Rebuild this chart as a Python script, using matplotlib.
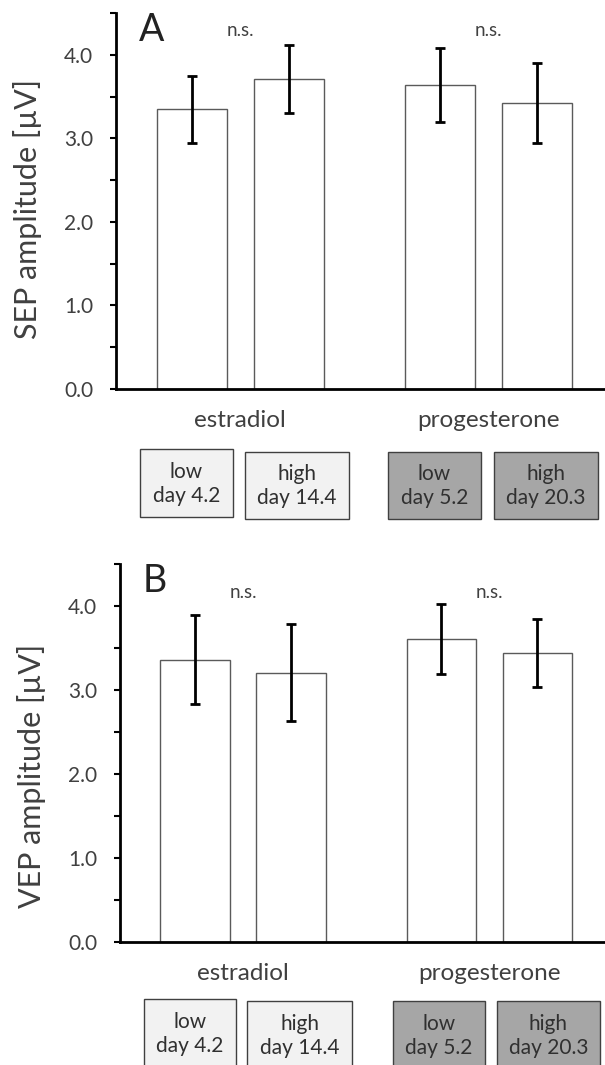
import matplotlib
matplotlib.use("Agg")
import matplotlib.pyplot as plt
from matplotlib.patches import Rectangle
from matplotlib.ticker import MultipleLocator, FormatStrFormatter

plt.rcParams['font.family'] = ['Lato', 'DejaVu Sans']

# values (mean +/- error)
groups = ['estradiol', 'progesterone']
sep_mean = [3.35, 3.71, 3.64, 3.42]
sep_err = [0.40, 0.41, 0.445, 0.48]
vep_mean = [3.36, 3.205, 3.605, 3.435]
vep_err = [0.53, 0.575, 0.415, 0.405]
phase_labels = ['low\nday 4.2', 'high\nday 14.4', 'low\nday 5.2', 'high\nday 20.3']
phase_fill = ['#f2f2f2', '#f2f2f2', '#a6a6a6', '#a6a6a6']

W, H = 605, 1065
TXT = '#404040'

fig = plt.figure(figsize=(W / 100, H / 100), dpi=100)


def fx(px):
    return px / W


def fy(py):
    return 1 - py / H


# bar positions: group index +/- offset
xs = [0 - 0.195, 0 + 0.195, 1 - 0.195, 1 + 0.195]


def panel(left, top, bottom, means, errs, ylab, letter, ns_y, lab_y):
    ax = fig.add_axes([fx(left), fy(bottom), fx(W) - fx(left), (bottom - top) / H])
    ax.bar(xs, means, width=0.282, color='white', edgecolor='#5a5a5a', linewidth=1.0, zorder=2)
    ax.errorbar(xs, means, yerr=errs, fmt='none', ecolor='black', elinewidth=2.0,
                capsize=3.5, capthick=2.0, zorder=3)
    ax.set_xlim(-0.5, 1.47)
    ax.set_ylim(0, 4.5)
    ax.yaxis.set_major_locator(MultipleLocator(1.0))
    ax.yaxis.set_minor_locator(MultipleLocator(0.5))
    ax.yaxis.set_major_formatter(FormatStrFormatter('%.1f'))
    ax.tick_params(axis='y', which='both', length=4.5, width=1.5, color='black',
                   labelsize=15, labelcolor=TXT, pad=12)
    ax.set_xticks([0, 1])
    ax.set_xticklabels(groups)
    ax.tick_params(axis='x', length=0, labelsize=17.5, labelcolor=TXT, pad=15)
    for s in ['top', 'right']:
        ax.spines[s].set_visible(False)
    for s in ['left', 'bottom']:
        ax.spines[s].set_linewidth(2.0)
    ax.set_ylabel(ylab, fontsize=22, color=TXT)
    ax.yaxis.set_label_coords(-0.152, lab_y)
    ax.text(0.047, 0.925, letter, transform=ax.transAxes, fontsize=27, color='#222222')
    for g in range(len(groups)):
        ax.text(g, ns_y, 'n.s.', ha='center', va='baseline', fontsize=13.5, color=TXT)
    return ax


panel(116, 13, 389, sep_mean, sep_err, 'SEP amplitude [µV]', 'A', 4.22, 0.48)
panel(120, 564, 941.7, vep_mean, vep_err, 'VEP amplitude [µV]', 'B', 4.10, 0.44)

# condition boxes under each panel (pixel coordinates x0, x1, y0, y1)
boxes_a = [(140, 233, 449, 517), (245, 349, 452, 519), (388, 481, 452, 519), (494, 598, 452, 519)]
boxes_b = [(144, 236, 999, 1067), (247, 352, 1001, 1069), (393, 485, 1001, 1069), (497, 600, 1001, 1069)]

for boxes in [boxes_a, boxes_b]:
    for (x0, x1, y0, y1), lab, fc in zip(boxes, phase_labels, phase_fill):
        fig.add_artist(Rectangle((fx(x0), fy(y1)), (x1 - x0) / W, (y1 - y0) / H,
                                 transform=fig.transFigure, facecolor=fc,
                                 edgecolor='#404040', linewidth=1.0))
        fig.text(fx((x0 + x1) / 2), fy((y0 + y1) / 2 + 1), lab, ha='center', va='center',
                 fontsize=15, color='#303030', linespacing=1.25)

fig.savefig('out.png', dpi=100)
